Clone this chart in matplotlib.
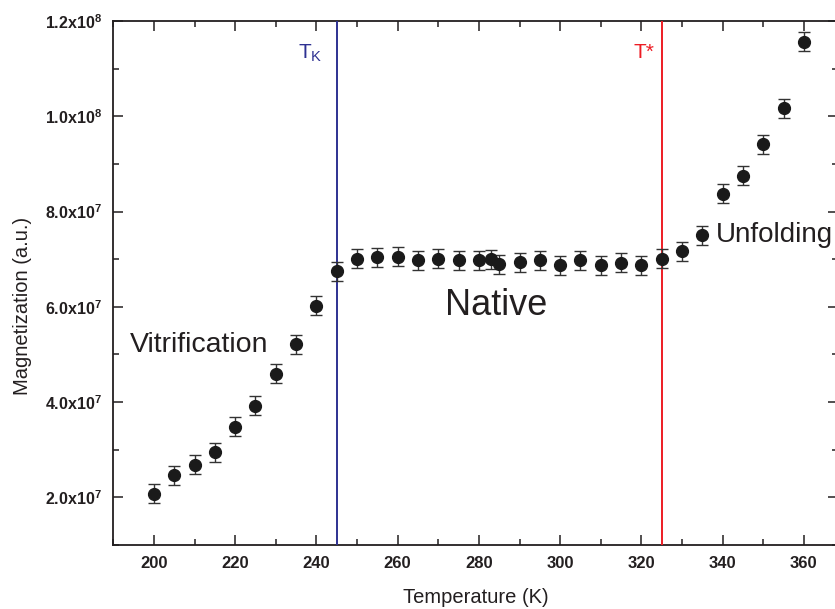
import matplotlib
matplotlib.use("Agg")
import matplotlib.pyplot as plt
from matplotlib.ticker import MultipleLocator, FuncFormatter

# ----------------------------------------------------------
# data
# ----------------------------------------------------------
temperatura = [200, 205, 210, 215, 220, 225, 230, 235, 240, 245,
               250, 255, 260, 265, 270, 275, 280, 283, 285, 290,
               295, 300, 305, 310, 315, 320, 325, 330, 335, 340,
               345, 350, 355, 360]

magnetizacion = [2.08e7, 2.46e7, 2.68e7, 2.95e7, 3.48e7, 3.92e7, 4.60e7, 5.21e7, 6.02e7, 6.75e7,
                 7.01e7, 7.04e7, 7.05e7, 6.98e7, 7.01e7, 6.98e7, 6.98e7, 7.00e7, 6.89e7, 6.94e7,
                 6.98e7, 6.87e7, 6.98e7, 6.87e7, 6.93e7, 6.87e7, 7.01e7, 7.17e7, 7.50e7, 8.37e7,
                 8.75e7, 9.41e7, 1.017e8, 1.156e8]

error = [2.0e6] * len(temperatura)

T_K = 245
T_star = 325

xticks = [200, 220, 240, 260, 280, 300, 320, 340, 360]
yticks = [2e7, 4e7, 6e7, 8e7, 1.0e8, 1.2e8]

# ----------------------------------------------------------
# fonts
# ----------------------------------------------------------
plt.rcParams['font.family'] = ['Liberation Sans', 'DejaVu Sans']
plt.rcParams['mathtext.fontset'] = 'custom'
plt.rcParams['mathtext.rm'] = 'Liberation Sans'
plt.rcParams['mathtext.bf'] = 'Liberation Sans:bold'
plt.rcParams['mathtext.it'] = 'Liberation Sans:italic'

fig = plt.figure(figsize=(8.35, 6.09), dpi=100)
# right spine sits just past the picture's edge, as in the original crop
ax = fig.add_axes([0.1357, 0.1051, 0.8679, 0.8604])

# error bars + points
ax.errorbar(temperatura, magnetizacion, yerr=error,
            fmt='o', color='#1a1a1a', markersize=8.5,
            ecolor='#333333', elinewidth=1.0, capsize=4, capthick=1.0,
            zorder=5)

# transition lines
ax.axvline(T_K, color='#2e3192', linewidth=1.4, zorder=3)
ax.axvline(T_star, color='#ed1c24', linewidth=1.4, zorder=3)

ax.text(235.5, 1.1216e8, r'T$_{\mathrm{K}}$', color='#2e3192',
        fontsize=15, va='baseline', ha='left')
ax.text(318.0, 1.1216e8, 'T*', color='#ed1c24',
        fontsize=15, va='baseline', ha='left')

# region labels
ax.text(194.0, 5.05e7, 'Vitrification', fontsize=20.5, color='#231f20',
        va='baseline', ha='left')
ax.text(271.7, 5.82e7, 'Native', fontsize=26, color='#231f20',
        va='baseline', ha='left')
ax.text(338.4, 7.36e7, 'Unfolding', fontsize=20, color='#231f20',
        va='baseline', ha='left', clip_on=False)

# axes limits and ticks
ax.set_xlim(190, 368.4)
ax.set_ylim(1.0e7, 1.2e8)
ax.set_xticks(xticks)
ax.set_yticks(yticks)
ax.xaxis.set_minor_locator(MultipleLocator(10))
ax.yaxis.set_minor_locator(MultipleLocator(1e7))


def fmt_y(v, pos):
    exp = 7 if v < 1e8 else 8
    mant = v / 10 ** exp
    return r'$\mathbf{%.1fx10^{%d}}$' % (mant, exp)


ax.yaxis.set_major_formatter(FuncFormatter(fmt_y))

ax.tick_params(which='both', direction='in', top=True, right=True,
               color='#231f20', width=1.1)
ax.tick_params(which='major', length=7, pad=8, labelsize=11.5,
               labelcolor='#231f20')
ax.tick_params(which='minor', length=4)
ax.tick_params(axis='x', which='major', labelsize=12)
for lab in ax.get_xticklabels():
    lab.set_fontweight('bold')

for s in ax.spines.values():
    s.set_linewidth(1.3)
    s.set_color('#231f20')

ax.set_xlabel('Temperature (K)', fontsize=14.5, color='#231f20', labelpad=12)
ax.set_ylabel('Magnetization (a.u.)', fontsize=14.5, color='#231f20')
ax.yaxis.set_label_coords(-0.112, 0.457)

fig.savefig('out.png', dpi=100)
